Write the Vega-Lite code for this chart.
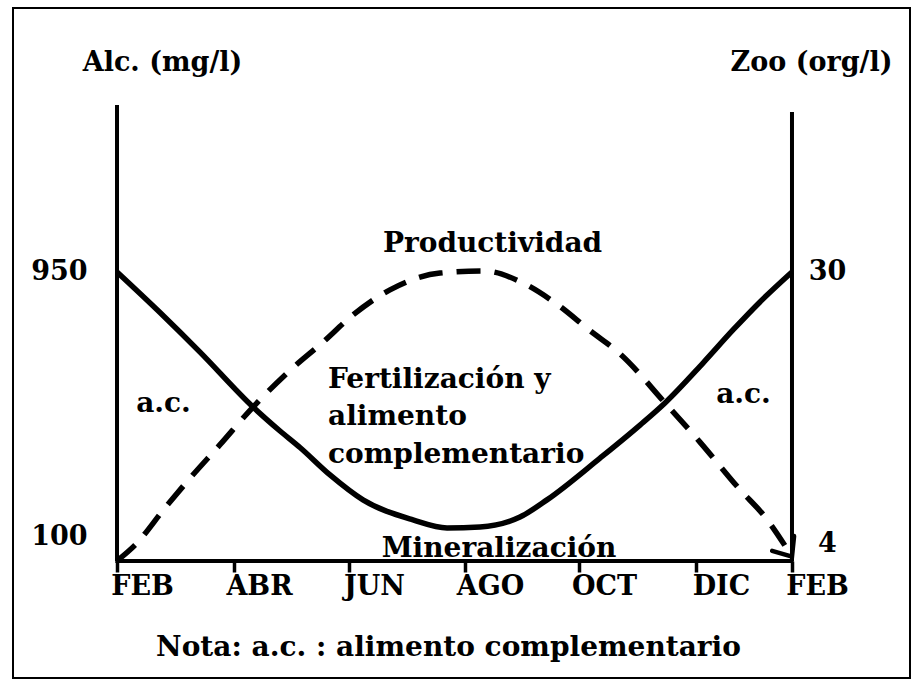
{
  "$schema": "https://vega.github.io/schema/vega-lite/v6.json",
  "width": 897,
  "height": 670,
  "autosize": "none",
  "padding": {"left": 13, "top": 8, "right": 7, "bottom": 2},
  "background": "white",
  "config": {
    "view": {"stroke": "black", "strokeWidth": 2},
    "font": "DejaVu Serif",
    "axis": {
      "labelFont": "DejaVu Serif", "labelFontWeight": "bold", "labelFontSize": 27, "labelColor": "black",
      "titleFont": "DejaVu Serif", "titleFontWeight": "bold", "titleFontSize": 27, "titleColor": "black",
      "grid": false, "domain": false
    },
    "text": {"font": "DejaVu Serif", "fontWeight": "bold", "fontSize": 28, "color": "black"}
  },
  "datasets": {
    "alc": [
      {"mes": 0, "alc": 950},
      {"mes": 0.764, "alc": 820},
      {"mes": 1.476, "alc": 693},
      {"mes": 2.418, "alc": 517},
      {"mes": 2.898, "alc": 440},
      {"mes": 3.253, "alc": 387},
      {"mes": 3.787, "alc": 299},
      {"mes": 4.373, "alc": 219},
      {"mes": 5.262, "alc": 155},
      {"mes": 5.867, "alc": 129},
      {"mes": 6.453, "alc": 132},
      {"mes": 7.164, "alc": 164},
      {"mes": 7.644, "alc": 219},
      {"mes": 8.587, "alc": 353},
      {"mes": 9.298, "alc": 459},
      {"mes": 9.742, "alc": 530},
      {"mes": 10.418, "alc": 658},
      {"mes": 10.951, "alc": 764},
      {"mes": 11.431, "alc": 854},
      {"mes": 12, "alc": 950}
    ],
    "zoo": [
      {"mes": 0, "zoo": 2.3},
      {"mes": 0.32, "zoo": 3.8},
      {"mes": 0.853, "zoo": 7.35},
      {"mes": 1.298, "zoo": 10.2},
      {"mes": 1.831, "zoo": 13.4},
      {"mes": 2.418, "zoo": 17.0},
      {"mes": 3.076, "zoo": 20.5},
      {"mes": 3.662, "zoo": 23.2},
      {"mes": 4.196, "zoo": 25.8},
      {"mes": 4.853, "zoo": 28.2},
      {"mes": 5.742, "zoo": 29.8},
      {"mes": 6.524, "zoo": 30},
      {"mes": 7.182, "zoo": 28.95},
      {"mes": 7.804, "zoo": 26.9},
      {"mes": 8.409, "zoo": 24.3},
      {"mes": 8.96, "zoo": 22.0},
      {"mes": 9.742, "zoo": 17.4},
      {"mes": 10.364, "zoo": 13.65},
      {"mes": 11.076, "zoo": 9.1},
      {"mes": 11.52, "zoo": 6.5},
      {"mes": 12, "zoo": 2.7}
    ],
    "etiquetas": [
      {"texto": "Productividad", "mes": 6.676, "alc": 1015},
      {"texto": "a.c.", "mes": 0.827, "alc": 501},
      {"texto": "a.c.", "mes": 11.138, "alc": 530},
      {"texto": "Mineralización", "mes": 6.791, "alc": 36}
    ],
    "bloque": [
      {"texto": "Fertilización y", "mes": 3.751, "alc": 578},
      {"texto": "alimento", "mes": 3.751, "alc": 458},
      {"texto": "complementario", "mes": 3.751, "alc": 338}
    ]
  },
  "layer": [
    {
      "layer": [
        {
          "data": {"values": [{}]},
          "mark": {"type": "rule", "stroke": "black", "strokeWidth": 4},
          "encoding": {
            "x": {"datum": 0, "type": "quantitative", "scale": {"domain": [-1.849, 14.098], "nice": false, "zero": false}},
            "y": {"datum": 23, "type": "quantitative", "scale": {"domain": [-352.3, 1796.8], "nice": false, "zero": false}},
            "y2": {"datum": 1486}
          }
        },
        {
          "data": {"values": [{}]},
          "mark": {"type": "rule", "stroke": "black", "strokeWidth": 4},
          "encoding": {
            "x": {"datum": 12, "type": "quantitative"},
            "y": {"datum": 23, "type": "quantitative"},
            "y2": {"datum": 1463}
          }
        },
        {
          "data": {"values": [{}]},
          "mark": {"type": "rule", "stroke": "black", "strokeWidth": 4},
          "encoding": {
            "x": {"datum": -0.03, "type": "quantitative"},
            "x2": {"datum": 12.03},
            "y": {"datum": 23, "type": "quantitative"}
          }
        },
        {
          "data": {"name": "alc"},
          "mark": {"type": "line", "stroke": "black", "strokeWidth": 5.5, "interpolate": "monotone"},
          "encoding": {
            "x": {
              "field": "mes", "type": "quantitative",
              "scale": {"domain": [-1.849, 14.098], "nice": false, "zero": false},
              "axis": {
                "orient": "bottom", "offset": -117,
                "values": [0, 2.08, 4.124, 6.187, 8.213, 10.293, 12],
                "labelExpr": "datum.value < 1 ? 'FEB' : datum.value < 3 ? 'ABR' : datum.value < 5 ? 'JUN' : datum.value < 7 ? 'AGO' : datum.value < 9 ? 'OCT' : datum.value < 11 ? 'DIC' : 'FEB'",
                "ticks": true, "tickSize": 11, "tickWidth": 3.5, "tickColor": "black",
                "labelOffset": 25, "labelPadding": 1, "labelFlush": false, "labelOverlap": false,
                "title": "Nota: a.c. : alimento complementario", "titleFontSize": 28,
                "titleX": 435, "titleY": 86, "titleAlign": "center", "titleBaseline": "middle"
              }
            },
            "y": {
              "field": "alc", "type": "quantitative",
              "scale": {"domain": [-352.3, 1796.8], "nice": false, "zero": false},
              "axis": {
                "orient": "left", "offset": -104, "values": [100, 950], "ticks": false,
                "labelPadding": 30, "labelAlign": "right", "labelBaseline": "middle",
                "title": "Alc. (mg/l)", "titleAngle": 0, "titleX": 45, "titleY": 54,
                "titleAlign": "center", "titleBaseline": "middle"
              }
            }
          }
        },
        {
          "data": {"name": "etiquetas"},
          "mark": {"type": "text", "baseline": "alphabetic", "align": "center"},
          "encoding": {
            "x": {"field": "mes", "type": "quantitative"},
            "y": {"field": "alc", "type": "quantitative"},
            "text": {"field": "texto"}
          }
        },
        {
          "data": {"name": "bloque"},
          "mark": {"type": "text", "baseline": "alphabetic", "align": "left"},
          "encoding": {
            "x": {"field": "mes", "type": "quantitative"},
            "y": {"field": "alc", "type": "quantitative"},
            "text": {"field": "texto"}
          }
        }
      ]
    },
    {
      "data": {"name": "zoo"},
      "layer": [
        {
          "mark": {"type": "line", "stroke": "black", "strokeWidth": 5.5, "strokeDash": [24, 14], "interpolate": "monotone"},
          "encoding": {
            "x": {"field": "mes", "type": "quantitative"},
            "y": {
              "field": "zoo", "type": "quantitative",
              "scale": {"domain": [-8.9, 55.14], "nice": false, "zero": false},
              "axis": {
                "orient": "right", "offset": -118, "values": [4, 30], "ticks": false,
                "labelPadding": 35, "labelAlign": "center", "labelBaseline": "middle",
                "title": "Zoo (org/l)", "titleAngle": 0, "titleX": 19, "titleY": 54,
                "titleAlign": "center", "titleBaseline": "middle"
              }
            }
          }
        },
        {
          "transform": [{"filter": "datum.mes == 12"}],
          "mark": {"type": "point", "shape": "M -1 -1.2 L 0 0 L 1 -1.2", "filled": false, "stroke": "black", "strokeWidth": 4.5, "strokeCap": "round", "opacity": 1, "size": 700, "angle": 326},
          "encoding": {
            "x": {"field": "mes", "type": "quantitative"},
            "y": {"field": "zoo", "type": "quantitative"}
          }
        }
      ]
    }
  ],
  "resolve": {"scale": {"y": "independent"}}
}
